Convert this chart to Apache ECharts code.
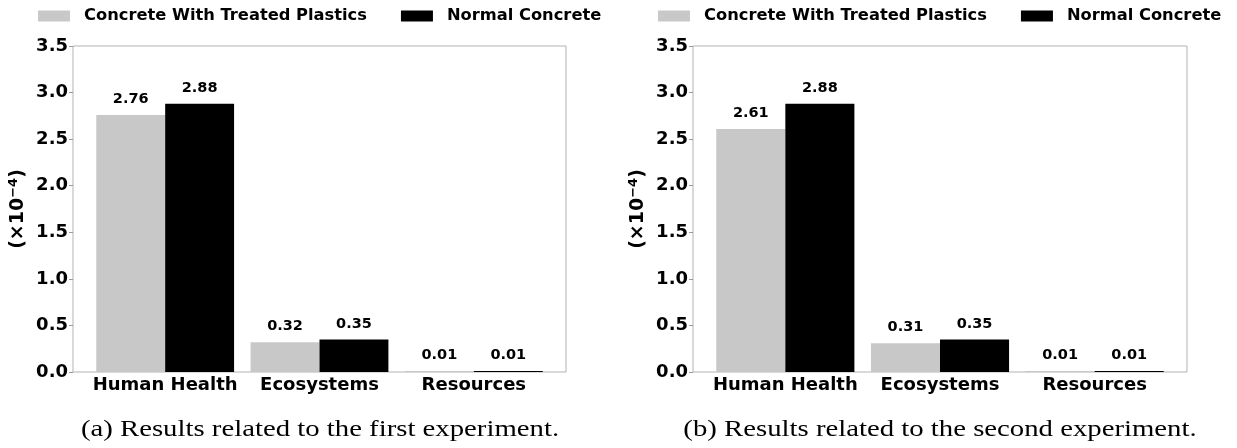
<!DOCTYPE html>
<html>
<head>
<meta charset="utf-8">
<title>Impact results</title>
<script src="https://cdn.jsdelivr.net/npm/echarts@6/dist/echarts.min.js"></script>
<style>
  html, body { margin: 0; padding: 0; background: #fff; }
  #chart { width: 1237px; height: 448px; }
</style>
</head>
<body>
<div id="chart"></div>
<script>
// Impact categories shown on the x axis
const categories = ['Human Health', 'Ecosystems', 'Resources'];

// First experiment (×10^-4)
const treatedFirst = [2.76, 0.32, 0.01];
const normalFirst = [2.88, 0.35, 0.01];

// Second experiment (×10^-4)
const treatedSecond = [2.61, 0.31, 0.01];
const normalSecond = [2.88, 0.35, 0.01];

// Y axis scale
const yMin = 0;
const yMax = 3.5;
const yStep = 0.5;

const seriesNames = ['Concrete With Treated Plastics', 'Normal Concrete'];
const captions = [
  '(a) Results related to the first experiment.',
  '(b) Results related to the second experiment.'
];

const SANS = 'DejaVu Sans';
const GREY = '#c8c8c8';
const BLACK = '#000000';

// Each panel: an outer frame (border + y scale) and an inner band
// that holds the bars, inset so the outer bars keep a margin to the frame.
const panels = [
  { frame: { left: 73, right: 671 }, bars: { left: 88, right: 686 }, caption: 320 },
  { frame: { left: 693, right: 50 }, bars: { left: 708, right: 65 }, caption: 940 }
];
const TOP = 46;
const BOTTOM = 76;

const grids = [];
const xAxes = [];
const yAxes = [];

panels.forEach((p, i) => {
  // frame grid: index 2*i
  grids.push({ left: p.frame.left, right: p.frame.right, top: TOP, bottom: BOTTOM,
    show: true, borderColor: '#b3b3b3', borderWidth: 1 });
  xAxes.push({ type: 'value', gridIndex: 2 * i, min: 0, max: 1, show: false });
  yAxes.push({
    type: 'value',
    gridIndex: 2 * i,
    min: yMin,
    max: yMax,
    interval: yStep,
    splitLine: { show: false },
    axisLine: { show: false },
    axisTick: { show: true, length: 4, lineStyle: { color: '#999' } },
    axisLabel: {
      color: '#000', fontFamily: SANS, fontWeight: 'bold', fontSize: 18, margin: 5,
      formatter: v => v.toFixed(1)
    },
    name: '(×10{sup|−4})',
    nameLocation: 'middle',
    nameRotate: 90,
    nameGap: 43,
    nameTextStyle: {
      color: '#000', fontFamily: SANS, fontWeight: 'bold', fontSize: 19,
      rich: {
        sup: { fontFamily: SANS, fontWeight: 'bold', fontSize: 13, verticalAlign: 'top', padding: [0, 0, 10, 0] }
      }
    }
  });

  // bar grid: index 2*i + 1
  grids.push({ left: p.bars.left, right: p.bars.right, top: TOP, bottom: BOTTOM });
  xAxes.push({
    type: 'category',
    gridIndex: 2 * i + 1,
    data: categories,
    axisLine: { show: false },
    axisTick: { show: false },
    axisLabel: {
      interval: 0,
      color: '#000', fontFamily: SANS, fontWeight: 'bold', fontSize: 18, margin: 4
    }
  });
  yAxes.push({ type: 'value', gridIndex: 2 * i + 1, min: yMin, max: yMax, interval: yStep, show: false });
});

function barSeries(name, data, color, panel) {
  return {
    name: name,
    type: 'bar',
    xAxisIndex: 2 * panel + 1,
    yAxisIndex: 2 * panel + 1,
    data: data,
    barGap: '0%',
    barCategoryGap: '10.7%',
    itemStyle: { color: color },
    label: {
      show: true,
      position: 'top',
      distance: 8,
      color: '#000',
      fontFamily: SANS,
      fontWeight: 'bold',
      fontSize: 14.5,
      formatter: p => p.value.toFixed(2)
    }
  };
}

function legendAt(left) {
  return {
    data: seriesNames,
    left: left,
    top: 8,
    padding: 0,
    icon: 'rect',
    itemWidth: 32,
    itemHeight: 11,
    itemGap: 34,
    selectedMode: false,
    textStyle: {
      color: '#000', fontFamily: SANS, fontWeight: 'bold', fontSize: 16.3,
      padding: [0, 0, 0, 9]
    }
  };
}

const chart = echarts.init(document.getElementById('chart'), null, { renderer: 'canvas' });

chart.setOption({
  animation: false,
  backgroundColor: '#fff',
  legend: [legendAt(38), legendAt(658)],
  grid: grids,
  xAxis: xAxes,
  yAxis: yAxes,
  series: [
    barSeries(seriesNames[0], treatedFirst, GREY, 0),
    barSeries(seriesNames[1], normalFirst, BLACK, 0),
    barSeries(seriesNames[0], treatedSecond, GREY, 1),
    barSeries(seriesNames[1], normalSecond, BLACK, 1)
  ],
  graphic: panels.map((p, i) => ({
    type: 'text',
    x: p.caption,
    y: 430,
    scaleX: 1.25,
    style: {
      text: captions[i],
      font: '23px "Liberation Serif"',
      fill: '#000',
      textAlign: 'center',
      textVerticalAlign: 'middle'
    }
  }))
});
</script>
</body>
</html>
